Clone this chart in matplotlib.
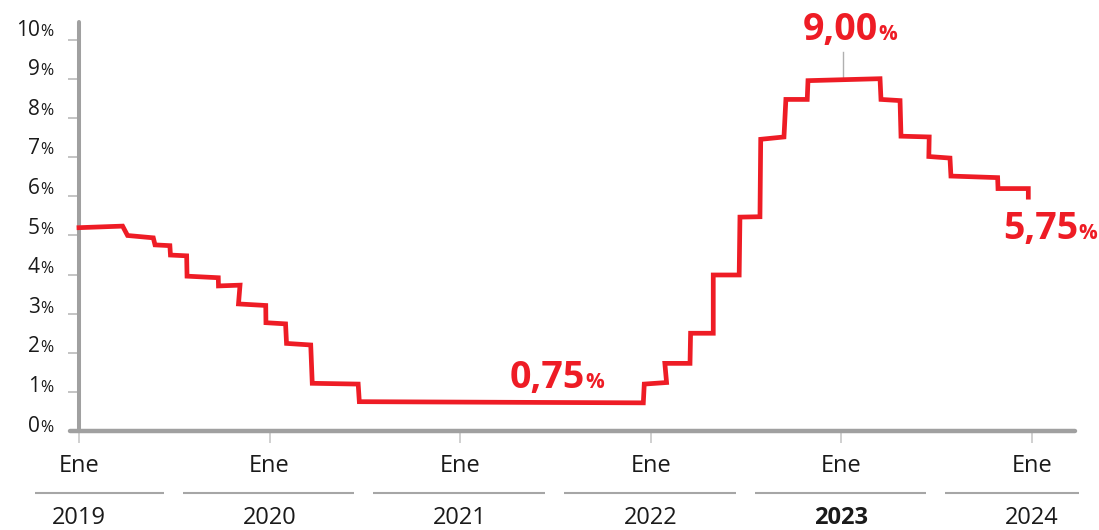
import matplotlib.pyplot as plt

plt.rcParams['font.family'] = ['Open Sans', 'DejaVu Sans']

RED = '#ee1c25'
GREY = '#a0a0a0'
TEXT = '#1a1a1a'

# Tasa de politica monetaria: vertices (fecha en anos decimales, %)
fechas = [
    2019.000, 2019.229, 2019.255, 2019.390, 2019.399, 2019.477, 2019.480,
    2019.565, 2019.567, 2019.731, 2019.732, 2019.845, 2019.837, 2019.980,
    2019.981, 2020.084, 2020.089, 2020.216, 2020.224, 2020.465, 2020.471,
    2021.961, 2021.966, 2022.083, 2022.074, 2022.206, 2022.209, 2022.328,
    2022.328, 2022.464, 2022.468, 2022.573, 2022.577, 2022.699, 2022.709,
    2022.821, 2022.825, 2023.203, 2023.208, 2023.308, 2023.313, 2023.461,
    2023.459, 2023.570, 2023.575, 2023.820, 2023.822, 2023.981, 2023.981,
]
tasas = [
    5.20, 5.24, 5.00, 4.94, 4.76, 4.74, 4.50,
    4.48, 3.96, 3.92, 3.71, 3.73, 3.25, 3.21,
    2.77, 2.74, 2.24, 2.20, 1.22, 1.20, 0.75,
    0.72, 1.20, 1.24, 1.73, 1.73, 2.50, 2.50,
    3.99, 3.99, 5.47, 5.48, 7.46, 7.52, 8.48,
    8.48, 8.96, 9.01, 8.48, 8.45, 7.54, 7.52,
    7.02, 6.98, 6.52, 6.48, 6.20, 6.20, 5.98,
]

anios = [2019, 2020, 2021, 2022, 2023, 2024]
meses = ['Ene', 'Ene', 'Ene', 'Ene', 'Ene', 'Ene']
anio_destacado = 2023
valores_y = [0, 1, 2, 3, 4, 5, 6, 7, 8, 9, 10]

# etiquetas destacadas: valor y punto de anclaje (fecha, altura)
destacados = [
    (9.00, 2023.192, 10.00),
    (0.75, 2021.655, 1.09),
    (5.75, 2024.243, 4.90),
]
fecha_pico = 2023.010

fig = plt.figure(figsize=(10.99, 5.30), dpi=100)
ax = fig.add_axes([0.0637, 0.18679, 0.91447, 0.7717])

ax.plot(fechas, tasas, color=RED, lw=3.4, solid_joinstyle='miter', zorder=3)

ax.set_xlim(2018.953, 2024.226)
ax.set_ylim(0, 10.46)

for s in ['top', 'right']:
    ax.spines[s].set_visible(False)
ax.spines['left'].set_position(('data', 2019))
ax.spines['left'].set_linewidth(2.9)
ax.spines['bottom'].set_linewidth(3.2)
for s in ['left', 'bottom']:
    ax.spines[s].set_color(GREY)
    ax.spines[s].set_capstyle('round')

ax.set_yticks(valores_y)
ax.tick_params(axis='y', direction='out', length=7.9, width=1.1, color='#b4b4b4', labelleft=False)
ax.set_xticks(anios)
ax.set_xticklabels(meses)
ax.tick_params(axis='x', direction='out', length=8.6, width=1.1, color='#c4c4c4',
               labelsize=17, labelcolor=TEXT, pad=8)

# etiquetas del eje y: numero grande + % pequeno
for v in valores_y:
    dy = 0.5 * v - 0.7
    ax.annotate(str(v), xy=(2019, v), xytext=(-39, dy), textcoords='offset pixels',
                ha='right', va='baseline', fontsize=15, color=TEXT)
    ax.annotate('%', xy=(2019, v), xytext=(-39, dy), textcoords='offset pixels',
                ha='left', va='baseline', fontsize=11.5, color=TEXT)

# separadores y etiquetas de anio
xt = ax.get_xaxis_transform()
for a in anios:
    ini = max(a - 0.455, 2018.77)
    fin = min(a + 0.445, 2024.247)
    ax.plot([ini, fin], [-0.1509, -0.1509], transform=xt, clip_on=False,
            color='#a6a6a6', lw=1.5, solid_capstyle='butt')
    ax.annotate(str(a), xy=(a, 0), xycoords=xt, xytext=(0, -93), textcoords='offset pixels',
                ha='center', va='baseline', fontsize=17, color=TEXT,
                fontweight='bold' if a == anio_destacado else 'normal', annotation_clip=False)

# linea guia del maximo
ax.plot([fecha_pico, fecha_pico], [9.04, 9.70], color='#b0b0b0', lw=1.0, zorder=2)

for valor, fx, fy in destacados:
    txt = f'{valor:.2f}'.replace('.', ',')
    ax.annotate(txt, xy=(fx, fy), ha='right', va='baseline', fontsize=27,
                fontweight='bold', color=RED, annotation_clip=False)
    ax.annotate('%', xy=(fx, fy), xytext=(0, 0), textcoords='offset pixels',
                ha='left', va='baseline', fontsize=15, fontweight='bold', color=RED,
                annotation_clip=False)

fig.savefig('out.png', dpi=100)
